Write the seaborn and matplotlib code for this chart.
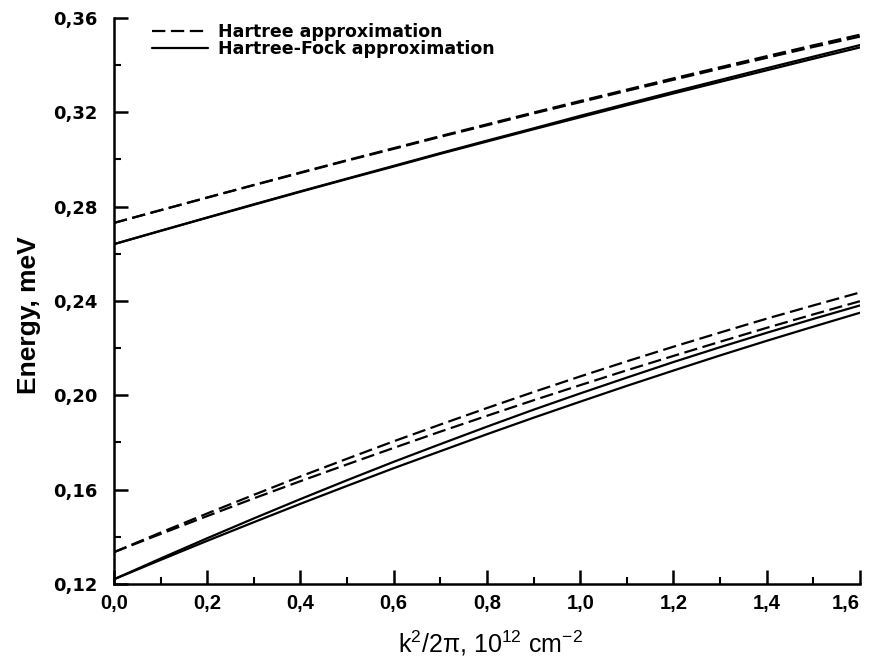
import numpy as np
import pandas as pd
import matplotlib
matplotlib.use("Agg")
import matplotlib.pyplot as plt
from matplotlib.ticker import MultipleLocator, FuncFormatter
import seaborn as sns

# k^2/2pi, 10^12 cm^-2
k2 = [0.0, 0.1, 0.2, 0.3, 0.4, 0.5, 0.6, 0.7, 0.8, 0.9,
      1.0, 1.1, 1.2, 1.3, 1.4, 1.5, 1.6]

# Upper branch, Hartree approximation (two subbands)
upper_h1 = [0.2731, 0.2785, 0.2839, 0.2892, 0.2945, 0.2997, 0.3048, 0.3099, 0.3149,
            0.3199, 0.3248, 0.3296, 0.3344, 0.3391, 0.3438, 0.3484, 0.3529]
upper_h2 = [0.2731, 0.2785, 0.2838, 0.2891, 0.2943, 0.2995, 0.3045, 0.3096, 0.3145,
            0.3195, 0.3243, 0.3291, 0.3338, 0.3385, 0.3431, 0.3477, 0.3521]
# Upper branch, Hartree-Fock approximation
upper_hf1 = [0.2641, 0.2698, 0.2754, 0.2810, 0.2865, 0.2919, 0.2973, 0.3027, 0.3080,
             0.3132, 0.3185, 0.3236, 0.3287, 0.3337, 0.3387, 0.3436, 0.3485]
upper_hf2 = [0.2641, 0.2697, 0.2753, 0.2808, 0.2863, 0.2917, 0.2970, 0.3024, 0.3076,
             0.3128, 0.3179, 0.3230, 0.3280, 0.3329, 0.3378, 0.3427, 0.3475]
# Lower branch, Hartree approximation
lower_h1 = [0.1335, 0.1418, 0.1499, 0.1578, 0.1656, 0.1731, 0.1805, 0.1876, 0.1946,
            0.2014, 0.2080, 0.2144, 0.2206, 0.2266, 0.2325, 0.2381, 0.2436]
lower_h2 = [0.1335, 0.1412, 0.1488, 0.1563, 0.1636, 0.1707, 0.1777, 0.1846, 0.1913,
            0.1979, 0.2043, 0.2106, 0.2167, 0.2227, 0.2286, 0.2343, 0.2399]
# Lower branch, Hartree-Fock approximation
lower_hf1 = [0.1220, 0.1308, 0.1394, 0.1478, 0.1560, 0.1640, 0.1718, 0.1793, 0.1867,
             0.1939, 0.2008, 0.2075, 0.2141, 0.2204, 0.2265, 0.2324, 0.2381]
lower_hf2 = [0.1220, 0.1302, 0.1383, 0.1462, 0.1540, 0.1616, 0.1691, 0.1763, 0.1835,
             0.1905, 0.1973, 0.2040, 0.2105, 0.2169, 0.2231, 0.2291, 0.2350]

legend_labels = ["Hartree approximation", "Hartree-Fock approximation"]

sns.set_theme(style="ticks")
plt.rcParams["font.family"] = ["Liberation Sans", "DejaVu Sans"]
plt.rcParams["text.color"] = "black"
plt.rcParams["axes.labelcolor"] = "black"
plt.rcParams["mathtext.fontset"] = "custom"
plt.rcParams["mathtext.rm"] = "Liberation Sans"
plt.rcParams["mathtext.it"] = "Liberation Sans:italic"
plt.rcParams["mathtext.bf"] = "Liberation Sans:bold"

fig = plt.figure(figsize=(8.73, 6.63), dpi=100)
ax = fig.add_axes([0.1306, 0.1192, 0.8544, 0.8537])

dashed = (0, (6, 2.5))
series = [
    (upper_h1, dashed, legend_labels[0]),
    (upper_h2, dashed, None),
    (upper_hf1, "-", legend_labels[1]),
    (upper_hf2, "-", None),
    (lower_h1, dashed, None),
    (lower_h2, dashed, None),
    (lower_hf1, "-", None),
    (lower_hf2, "-", None),
]
for vals, ls, lab in series:
    df = pd.DataFrame({"k2": k2, "E": vals})
    sns.lineplot(data=df, x="k2", y="E", ax=ax, color="black",
                 linestyle=ls, linewidth=1.6, label=lab, legend=False)

ax.set_xlim(0.0, 1.6)
ax.set_ylim(0.12, 0.36)
ax.xaxis.set_major_locator(MultipleLocator(0.2))
ax.xaxis.set_minor_locator(MultipleLocator(0.1))
ax.yaxis.set_major_locator(MultipleLocator(0.04))
ax.yaxis.set_minor_locator(MultipleLocator(0.02))
ax.xaxis.set_major_formatter(FuncFormatter(lambda v, p: f"{v:.1f}".replace(".", ",")))
ax.yaxis.set_major_formatter(FuncFormatter(lambda v, p: f"{v:.2f}".replace(".", ",")))

sns.despine(ax=ax)
for s in ("left", "bottom"):
    ax.spines[s].set_linewidth(1.8)
    ax.spines[s].set_color("black")
ax.tick_params(which="major", direction="in", length=10, width=1.8, colors="black")
ax.tick_params(axis="y", which="major", pad=12, labelsize=13)
ax.tick_params(axis="x", which="major", pad=7, labelsize=14.5)
ax.tick_params(which="minor", direction="in", length=5, width=1.5, colors="black")

for t in ax.get_yticklabels():
    t.set_fontweight("bold")
    t.set_family(["DejaVu Sans"])
for t in ax.get_xticklabels():
    t.set_fontweight("bold")
    t.set_family(["Liberation Sans"])

ax.set_ylabel("Energy, meV", fontsize=19, fontweight="bold")
ax.yaxis.set_label_coords(-0.098, 0.475)
ax.set_xlabel(r"k$^2$/2π, 10$^{12}$ cm$^{-2}$", fontsize=18)
ax.xaxis.set_label_coords(0.505, -0.078)

leg = ax.legend(loc="upper left", bbox_to_anchor=(0.030, 1.018), frameon=False,
                handlelength=3.2, handletextpad=0.6, labelspacing=-0.1,
                prop={"weight": "bold", "size": 12.5, "family": ["DejaVu Sans"]})

# keep the last x tick label inside the figure
fig.canvas.draw()
last_tick = [tk for tk in ax.xaxis.get_major_ticks() if abs(tk.get_loc() - 1.6) < 1e-9]
for tk in last_tick:
    tk.label1.set_horizontalalignment("right")
    tk.label1.set_x(1.6)

fig.savefig("out.png", dpi=100, facecolor="white")
